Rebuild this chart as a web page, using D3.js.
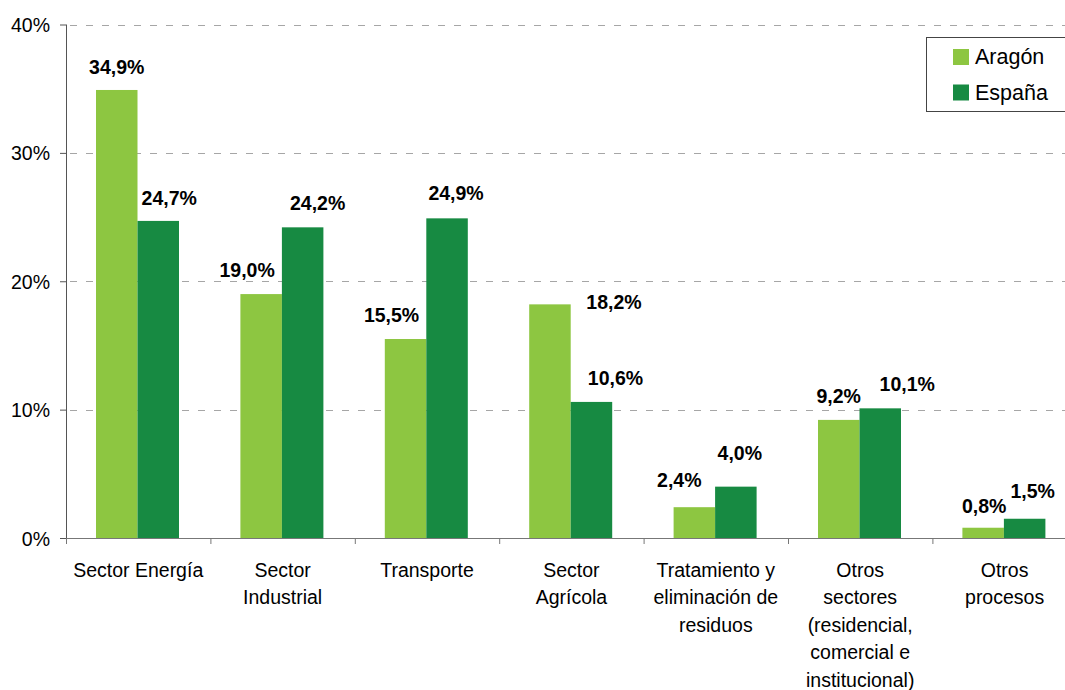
<!doctype html>
<html>
<head>
<meta charset="utf-8">
<style>
    body { margin: 0; background: #fff; }
    svg text { font-family: "Liberation Sans", Arial, sans-serif; fill: #000; }
</style>
<script src="https://d3js.org/d3.v7.min.js"></script>
</head>
<body>
<svg width="1065" height="690"></svg>
<script>
// data
var categories = ["Sector Energía", "Sector Industrial", "Transporte", "Sector Agrícola",
    "Tratamiento y eliminación de residuos", "Otros sectores (residencial, comercial e institucional)",
    "Otros procesos"];
var categoryLines = [
    ["Sector Energía"],
    ["Sector", "Industrial"],
    ["Transporte"],
    ["Sector", "Agrícola"],
    ["Tratamiento y", "eliminación de", "residuos"],
    ["Otros", "sectores", "(residencial,", "comercial e", "institucional)"],
    ["Otros", "procesos"]
];
var series = ["Aragón", "España"];
var aragon = [34.9, 19.0, 15.5, 18.2, 2.4, 9.2, 0.8];
var espana = [24.7, 24.2, 24.9, 10.6, 4.0, 10.1, 1.5];
var yTicks = [0, 10, 20, 30, 40];

// label nudges (px, relative to top centre of the bar) - hand placed in the original
var nudgeAragon = [[0, -16], [-14, -17], [-14, -17], [64, 5], [-15, -20], [0, -17], [1, -15]];
var nudgeEspana = [[11, -16], [15, -17], [9, -18], [24, -17], [4, -27], [27, -17], [8, -21]];

var colors = {"Aragón": "#8DC641", "España": "#178A42"};

var svg = d3.select("svg");
var plotLeft = 66, plotTop = 24.5, plotBottom = 538, band = 144.4;

var x = d3.scaleBand().domain(categories).range([plotLeft, plotLeft + band * categories.length]);
var xSub = d3.scaleBand().domain(series).range([30, 113]);
var xIdx = d3.scaleLinear().domain([0, categories.length]).range([plotLeft, plotLeft + band * categories.length]);
var y = d3.scaleLinear().domain([0, 40]).range([plotBottom, plotTop]);

// gridlines
svg.append("g").selectAll("line")
    .data(yTicks.filter(function(d) { return d > 0; }))
    .enter().append("line")
    .attr("x1", plotLeft + 4).attr("x2", 1065)
    .attr("y1", function(d) { return Math.round(y(d)) + 0.5; })
    .attr("y2", function(d) { return Math.round(y(d)) + 0.5; })
    .attr("stroke", "#a6a6a6").attr("stroke-width", 1)
    .attr("stroke-dasharray", "7,9");

// bars
var rows = categories.map(function(c, i) {
    return [{cat: c, s: "Aragón", v: aragon[i], n: nudgeAragon[i]},
            {cat: c, s: "España", v: espana[i], n: nudgeEspana[i]}];
});
var flat = [].concat.apply([], rows);

svg.append("g").selectAll("rect")
    .data(flat)
    .enter().append("rect")
    .attr("x", function(d) { return x(d.cat) + xSub(d.s); })
    .attr("y", function(d) { return y(d.v); })
    .attr("width", xSub.bandwidth())
    .attr("height", function(d) { return plotBottom - y(d.v); })
    .attr("fill", function(d) { return colors[d.s]; });

// value labels
svg.append("g").selectAll("text")
    .data(flat)
    .enter().append("text")
    .attr("x", function(d) { return x(d.cat) + xSub(d.s) + xSub.bandwidth() / 2 + d.n[0]; })
    .attr("y", function(d) { return y(d.v) + d.n[1]; })
    .attr("text-anchor", "middle")
    .style("font-size", "19.5px")
    .style("font-weight", "bold")
    .text(function(d) { return d3.format(".1f")(d.v).replace(".", ",") + "%"; });

// y axis
var yAxis = svg.append("g")
    .attr("transform", "translate(" + plotLeft + ",0)")
    .call(d3.axisLeft(y).tickValues(yTicks).tickSize(6).tickPadding(10)
        .tickFormat(function(d) { return d + "%"; }));
yAxis.selectAll("text").style("font-size", "19.5px").attr("dy", "0.36em");
yAxis.selectAll("line, path").attr("stroke", "#555");
yAxis.select(".domain").attr("d", "M0.5," + plotTop + "V" + plotBottom);

// x axis
var xAxis = svg.append("g")
    .attr("transform", "translate(0," + plotBottom + ")")
    .call(d3.axisBottom(xIdx).tickValues(d3.range(categories.length + 1)).tickSize(6).tickFormat(""));
xAxis.selectAll("line, path").attr("stroke", "#777");

// category labels
var cl = svg.append("g").selectAll("text")
    .data(categories)
    .enter().append("text")
    .attr("text-anchor", "middle")
    .style("font-size", "19.5px")
    .attr("x", function(d) { return x(d) + x.bandwidth() / 2; })
    .attr("y", 576.5);
cl.selectAll("tspan")
    .data(function(d, i) { return categoryLines[i]; })
    .enter().append("tspan")
    .attr("x", function() { return this.parentNode.getAttribute("x"); })
    .attr("dy", function(d, i) { return i === 0 ? 0 : 27.5; })
    .text(function(d) { return d; });

// legend
var lg = svg.append("g").attr("transform", "translate(926,37)");
lg.append("rect").attr("x", 0.5).attr("y", 0.5).attr("width", 145).attr("height", 74)
    .attr("fill", "#fff").attr("stroke", "#444").attr("stroke-width", 1);
series.forEach(function(s, i) {
    lg.append("rect").attr("x", 27).attr("y", 12 + i * 35.5).attr("width", 16).attr("height", 16)
        .attr("fill", colors[s]);
    lg.append("text").attr("x", 49).attr("y", 27 + i * 35.5)
        .style("font-size", "21.5px").text(s);
});
</script>
</body>
</html>
